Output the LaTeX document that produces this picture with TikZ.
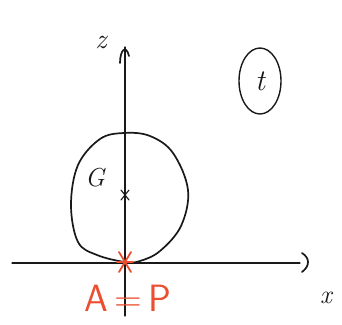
\documentclass[tikz,border=0pt]{standalone}
\usepackage{fontspec}
\usetikzlibrary{shapes.geometric}
\definecolor{penred}{RGB}{236,78,48}
\definecolor{ink}{RGB}{25,25,25}
\begin{document}
\begin{tikzpicture}[x=1pt,y=-1pt,
  pen/.style={draw=ink,line width=1.7pt,line cap=round,line join=round},
  redpen/.style={draw=penred,line width=1.8pt,line cap=round},
  lbl/.style={inner sep=0pt,text=ink}]
\useasboundingbox[fill=white] (0,0) rectangle (342,324);
% coordinates
\coordinate (ztop) at (125,47);
\coordinate (zbot) at (125,316);
\coordinate (xl) at (12,263);
\coordinate (xr) at (300,263);
\coordinate (P) at (125,262);
\coordinate (C) at (125,195);
% axes
\draw[pen,line width=1.2pt] (zbot) -- (ztop);
\draw[pen] (120,63) .. controls (120,50) and (126,44) .. (129,56);
\draw[pen,line width=1.2pt] (xl) -- (xr);
\draw[pen] (302,253) .. controls (310,258) and (310,266) .. (302,272);
% blob
\draw[pen] plot[smooth cycle,tension=0.6] coordinates{
 (125,262) (97,255) (78,242) (71,205) (78,165) (100,139) (124,133) (150,136)
 (173,153) (188,190) (181,226) (160,251) (140,261)};
% centre mark
\draw[pen,line width=1.1pt] (121,190) -- (129,200) (129,190) -- (121,200);
% red star at P
\draw[redpen] (119,252) -- (131,272) (131,252) -- (119,272) (117,262) -- (133,262);
% labels
\node[lbl,font=\fontsize{28}{28}\selectfont\itshape] (zl) at (101,42) {z};
\node[lbl,font=\fontsize{26}{26}\selectfont\itshape] (xlab) at (326,298) {x};
\node[lbl,font=\fontsize{26}{26}\selectfont\itshape] (G) at (95,178) {G};
\node[pen,ellipse,minimum width=42pt,minimum height=66pt,inner sep=0pt,line width=1.4pt] (t) at (260,81) {};
\node[lbl,font=\fontsize{30}{30}\selectfont\itshape] (tl) at (t) {t};
\node[lbl,text=penred,font=\fontsize{38}{38}\selectfont\sffamily] (AP) at (128,298) {A\,=\,P};
\end{tikzpicture}
\end{document}
